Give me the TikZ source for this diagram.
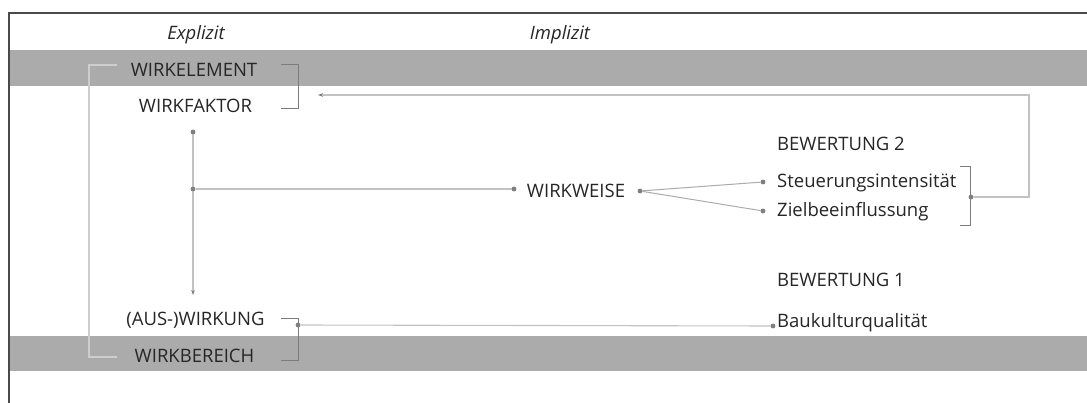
\documentclass[tikz,border=0pt]{standalone}
\usepackage{fontspec}
\setmainfont{Open Sans}
\usetikzlibrary{arrows.meta}
\definecolor{band}{HTML}{ABABAB}
\definecolor{ink}{HTML}{262626}
\definecolor{wirec}{HTML}{C2C2C2}
\definecolor{fanc}{HTML}{ABABAB}
\definecolor{brk}{HTML}{7C7C7C}
\definecolor{lbrk}{HTML}{CDCDCD}
\definecolor{dotc}{HTML}{7F7F7F}
\definecolor{framec}{HTML}{4A4A4A}
\begin{document}
\begin{tikzpicture}[x=1pt,y=-1pt,
  lbl/.style={text=ink,font=\fontsize{18.5}{21}\selectfont,inner sep=0pt,anchor=base},
  lblw/.style={lbl,anchor=base west},
  head/.style={lbl,font=\fontsize{18.5}{21}\selectfont\itshape},
  wire/.style={draw=wirec,line width=1.1pt},
  fan/.style={draw=fanc,line width=1pt},
  brack/.style={draw=brk,line width=1pt},
  lbrack/.style={draw=lbrk,line width=1.2pt},
  pin/.style={circle,fill=dotc,inner sep=0pt,minimum size=4.6pt},
  tip/.style={-{Stealth[length=5pt,width=3.6pt,color=dotc]}}]
\useasboundingbox (0,0) rectangle (1087,403);
\fill[white] (0,0) rectangle (1087,403);

% grey bands
\fill[band] (9,50) rectangle (1087,86);
\fill[band] (9,336) rectangle (1087,371);

% frame
\draw[line width=1.6pt,color=framec] (9,403) -- (9,13) -- (1087,13);

% column headings
\node[head] (expl) at (196,40) {Explizit};
\node[head] (impl) at (560,40) {Implizit};

% left column
\node[lbl] (elem) at (194,76.5) {WIRKELEMENT};
\node[lbl] (fakt) at (195.5,113) {WIRKFAKTOR};
\node[lbl] (wirk) at (195.5,326) {(AUS-)WIRKUNG};
\node[lbl] (ber)  at (194.5,362) {WIRKBEREICH};

% middle
\node[lbl] (weise) at (576,197.5) {WIRKWEISE};

% right column
\node[lblw] (bew2) at (777,150.5) {BEWERTUNG 2};
\node[lblw] (steu) at (777,188) {Steuerungsintensität};
\node[lblw] (ziel) at (777,217) {Zielbeeinflussung};
\node[lblw] (bew1) at (777,287) {BEWERTUNG 1};
\node[lblw] (bau)  at (777,327) {Baukulturqualität};

% connection points
\node[pin] (pF)  at (193,132) {};
\node[pin] (pJ)  at (193,189) {};
\node[pin] (pW1) at (514,189) {};
\node[pin] (pW2) at (640,191) {};
\node[pin] (pS)  at (763,182) {};
\node[pin] (pZ)  at (763,211) {};
\node[pin] (pB2) at (971,197) {};
\node[pin] (pA)  at (298,325) {};
\node[pin] (pQ)  at (773,326) {};
\coordinate (aWF) at (318,95);
\coordinate (turn) at (1029,95);
\coordinate (aWK) at (193,295);

% outer bracket on the left
\coordinate (lbT) at (117,65);
\coordinate (lbB) at (117,357);
\draw[lbrack] (lbT) -- (89,65) -- (89,357) -- (lbB);

% right-hand brackets
\draw[brack] (281,65) -- (298,65) -- (298,109) -- (281,109);
\draw[brack] (281,319) -- (298,319) -- (298,360) -- (281,360);
\draw[brack] (960,167) -- (970,167) -- (970,226) -- (960,226);

% connectors
\draw[wire,tip] (pF) -- (aWK);
\draw[wire] (pJ) -- (pW1);
\draw[fan] (pW2) -- (pS);
\draw[fan] (pW2) -- (pZ);
\draw[wire,tip] (pB2) -- (pB2 -| turn) -- (turn) -- (aWF);
\draw[wire] (pA) -- (pQ);

% redraw points on top of the lines
\foreach \p in {pF,pJ,pW1,pW2,pS,pZ,pB2,pA,pQ} \fill[dotc] (\p) circle (2.3pt);
\end{tikzpicture}
\end{document}
